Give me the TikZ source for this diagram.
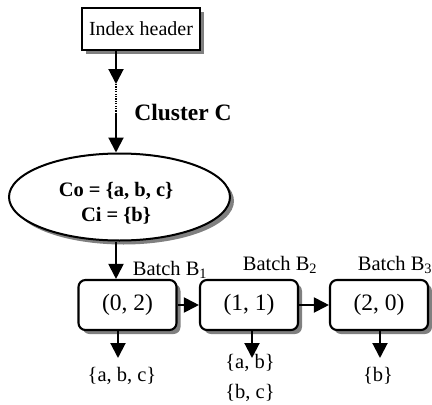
\documentclass[tikz,border=0pt]{standalone}
\usepackage{fontspec}
\setmainfont{Liberation Serif}
\usetikzlibrary{arrows.meta,shapes.geometric,shadows}
\begin{document}
\begin{tikzpicture}[x=1pt,y=-1pt,
  font=\fontsize{20.5}{24}\selectfont,
  shade/.style={drop shadow={shadow xshift=4pt,shadow yshift=-4pt,fill=black!50,opacity=1}},
  hdrbox/.style={draw,line width=2.1pt,fill=white,shade,minimum width=118pt,minimum height=42pt,inner sep=0pt,font=\fontsize{20}{24}\selectfont},
  batchbox/.style={draw,line width=2.1pt,fill=white,shade,rounded corners=7pt,minimum width=98pt,minimum height=50pt,inner sep=0pt,font=\fontsize{23.5}{26}\selectfont},
  arr/.style={line width=2pt,-{Triangle[width=15pt,length=15pt]}},
  txt/.style={inner sep=0pt}]
\useasboundingbox (0,0) rectangle (432,405);

% index header and the cluster ellipse
\node[hdrbox] (hdr) at (141,29) {Index header};
\node[draw,ellipse,line width=2pt,fill=white,shade,minimum width=221pt,minimum height=87pt,inner sep=0pt] (clu) at (119.5,197) {};
\node[txt,align=center,font=\fontsize{20.5}{25}\selectfont\bfseries] (cset) at (116,203) {Co = \{a, b, c\}\\Ci = \{b\}};
\node[txt,font=\fontsize{23.5}{26}\selectfont\bfseries] (clab) at (183,112) {Cluster C};

% path from the header down to the cluster
\coordinate (d1) at (116,84);
\coordinate (d2) at (116,113);
\draw[arr] (hdr.south -| d1) -- (d1);
\draw[line width=2pt,dash pattern=on 1.2pt off 1.2pt] (d1) -- (d2);
\draw[arr] (d2) -- (clu.north -| d2);

% batches
\node[batchbox] (b1) at (127.5,305) {(0, 2)};
\node[batchbox] (b2) at (249,305) {(1, 1)};
\node[batchbox] (b3) at (379,305) {(2, 0)};
\node[txt] (l1) at (170,270) {Batch B\textsubscript{1}};
\node[txt] (l2) at (280,265) {Batch B\textsubscript{2}};
\node[txt] (l3) at (395,265) {Batch B\textsubscript{3}};

\coordinate (e1) at (116,280);
\draw[arr] (clu.south -| e1) -- (b1.north -| e1);
\draw[arr] (b1) -- (b2);
\draw[arr] (b2) -- (b3);

% item sets under each batch
\node[txt] (s1) at (122,376) {\{a, b, c\}};
\node[txt] (s2a) at (250,363) {\{a, b\}};
\node[txt] (s2b) at (250,393) {\{b, c\}};
\node[txt] (s3) at (378,376) {\{b\}};
\coordinate (t1) at (118,358);
\coordinate (t2) at (252,358);
\coordinate (t3) at (380,358);
\draw[arr] (b1.south -| t1) -- (t1);
\draw[arr] (b2.south -| t2) -- (t2);
\draw[arr] (b3.south -| t3) -- (t3);
\end{tikzpicture}
\end{document}
